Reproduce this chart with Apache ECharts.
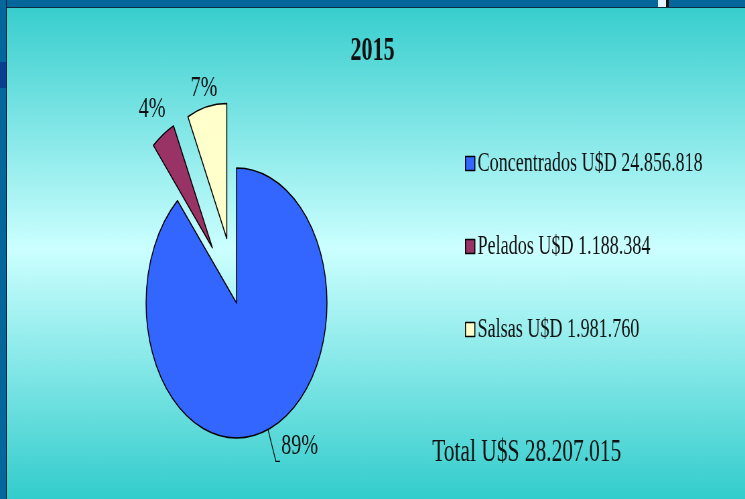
<!DOCTYPE html>
<html>
<head>
<meta charset="utf-8">
<script src="https://cdn.jsdelivr.net/npm/echarts@6/dist/echarts.min.js"></script>
<style>
    html, body { margin: 0; padding: 0; background: #05669b; overflow: hidden; }
    #wrap { position: relative; width: 745px; height: 499px; overflow: hidden; }
    /* chart is drawn wide then squeezed, like the stretched slide picture */
    #main { position: absolute; left: 0; top: 0; height: 499px; transform-origin: 0 0; }
    .frame { position: absolute; }
</style>
</head>
<body>
<div id="wrap">
    <div id="main"></div>
    <div class="frame" style="left:0;top:0;width:745px;height:7px;background:#05669b;border-bottom:1px solid #0b2a40;"></div>
    <div class="frame" style="left:0;top:0;width:6px;height:499px;background:#05669b;border-right:1px solid #0b2a40;"></div>
    <div class="frame" style="left:0;top:62px;width:6px;height:26px;background:#0a3f8f;"></div>
    <div class="frame" style="left:658px;top:0;width:8px;height:7px;background:#e6f2ff;"></div>
    <div class="frame" style="left:666px;top:0;width:3px;height:7px;background:#111;"></div>
</div>
<script>
// datos 2015
var year = '2015';
var productos = ['Concentrados', 'Pelados', 'Salsas'];
var valores = [24856818, 1188384, 1981760];
var colores = ['#3366ff', '#993366', '#ffffcc'];
var totalUS = 28207015;

var squeeze = 0.67;
var fullW = Math.round(745 / squeeze);

var box = document.getElementById('main');
box.style.width = fullW + 'px';
box.style.transform = 'scaleX(' + squeeze + ')';

// 24856818 -> 24.856.818
function puntos(n) {
    return String(n).replace(/\B(?=(\d{3})+(?!\d))/g, '.');
}

var serif = 'Liberation Serif';
var lineLen = [34, 30, 19];

var pieData = productos.map(function (p, i) {
    return {
        name: p,
        value: valores[i],
        selected: i > 0,
        itemStyle: {color: colores[i]},
        labelLine: {show: i === 0, length: lineLen[i], length2: 6}
    };
});

var myChart = echarts.init(box, null, {renderer: 'canvas'});
var option = {
    animation: false,
    backgroundColor: {
        type: 'linear', x: 0, y: 0, x2: 0, y2: 1,
        colorStops: [
            {offset: 0, color: '#33cccc'},
            {offset: 0.5, color: '#ccffff'},
            {offset: 1, color: '#33cccc'}
        ]
    },
    title: [{
        text: year,
        left: 'center',
        top: 30,
        textStyle: {fontFamily: serif, fontSize: 33, fontWeight: 'bold', color: '#111'}
    }, {
        text: 'Total U$S ' + puntos(totalUS),
        left: 640,
        top: 432,
        textStyle: {fontFamily: serif, fontSize: 32, fontWeight: 'normal', color: '#111'}
    }],
    legend: {
        orient: 'vertical',
        left: 689,
        top: 145,
        itemGap: 56,
        itemWidth: 14,
        itemHeight: 14,
        icon: 'rect',
        selectedMode: false,
        data: productos,
        itemStyle: {borderColor: '#000', borderWidth: 1.5},
        textStyle: {fontFamily: serif, fontSize: 27, lineHeight: 27, color: '#111', padding: [0, 0, 0, -1]},
        formatter: function (name) {
            return name + ' U$D ' + puntos(valores[productos.indexOf(name)]);
        }
    },
    series: [{
        type: 'pie',
        center: [353, 303],
        radius: 135,
        startAngle: 90,
        clockwise: true,
        selectedMode: 'multiple',
        selectedOffset: 66,
        avoidLabelOverlap: false,
        emphasis: {disabled: true},
        itemStyle: {borderColor: '#000', borderWidth: 1.5},
        label: {
            show: true,
            position: 'outside',
            fontFamily: serif,
            fontSize: 30,
            color: '#111',
            distanceToLabelLine: 2,
            formatter: function (p) {
                return Math.round(p.percent) + '%';
            }
        },
        labelLine: {lineStyle: {color: '#000', width: 1.2}},
        labelLayout: function (p) {
            if (p.dataIndex === 0) {
                return {verticalAlign: 'bottom'};
            }
            return {align: 'center', dx: 8};
        },
        data: pieData
    }]
};

myChart.setOption(option);
</script>
</body>
</html>
